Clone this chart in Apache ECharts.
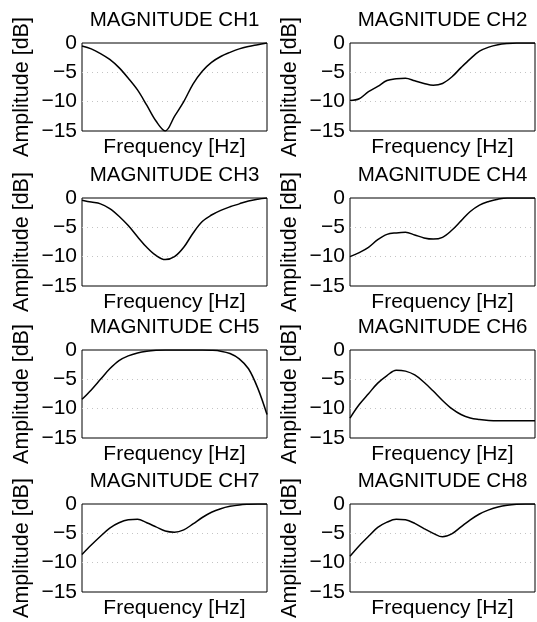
<!DOCTYPE html>
<html>
<head>
<meta charset="utf-8">
<script src="https://cdn.jsdelivr.net/npm/echarts@6/dist/echarts.min.js"></script>
<style>html,body{margin:0;padding:0;background:#fff;}#c{width:537px;height:622px;}</style>
</head>
<body>
<div id="c"></div>
<script>
// normalized frequency positions (x axis has no tick labels)
const freq = [0,0.05,0.10,0.15,0.20,0.25,0.30,0.35,0.40,0.45,0.50,0.55,0.60,0.65,0.70,0.75,0.80,0.85,0.90,0.95,1.00];
const titles = ['MAGNITUDE CH1','MAGNITUDE CH2','MAGNITUDE CH3','MAGNITUDE CH4','MAGNITUDE CH5','MAGNITUDE CH6','MAGNITUDE CH7','MAGNITUDE CH8'];
const yTicks = [0,-5,-10,-15];
const ch1 = [-0.5,-1.0,-1.8,-2.8,-4.2,-6.0,-8.0,-10.6,-13.3,-15.0,-12.5,-10.0,-7.0,-4.8,-3.3,-2.3,-1.6,-1.0,-0.6,-0.3,0];
const ch2 = [-9.8,-9.5,-8.3,-7.4,-6.4,-6.1,-6.0,-6.45,-6.9,-7.2,-6.9,-5.8,-4.2,-2.7,-1.4,-0.7,-0.3,-0.1,0,0,0];
const ch3 = [-0.4,-0.7,-1.0,-1.8,-3.1,-4.7,-6.6,-8.4,-9.8,-10.5,-10.0,-8.4,-6.0,-4.0,-2.9,-2.1,-1.5,-1.0,-0.5,-0.2,0];
const ch4 = [-10.0,-9.3,-8.4,-7.1,-6.2,-5.95,-5.85,-6.3,-6.8,-7.0,-6.7,-5.5,-3.9,-2.3,-1.2,-0.6,-0.2,0,0,0,0];
const ch5 = [-8.4,-6.8,-5.0,-3.2,-1.8,-1.0,-0.5,-0.2,-0.05,0,0,0,0,0,-0.05,-0.2,-0.6,-1.5,-3.2,-6.5,-11.0];
const ch6 = [-11.6,-9.3,-7.45,-5.65,-4.35,-3.45,-3.6,-4.25,-5.5,-7.0,-8.6,-10.0,-11.0,-11.6,-11.85,-12.0,-12.05,-12.05,-12.05,-12.05,-12.05];
const ch7 = [-8.6,-7.0,-5.5,-4.1,-3.2,-2.7,-2.62,-3.2,-3.9,-4.6,-4.8,-4.4,-3.4,-2.3,-1.4,-0.8,-0.4,-0.15,-0.05,0,0];
const ch8 = [-8.9,-7.1,-5.5,-4.0,-3.1,-2.62,-2.7,-3.3,-4.2,-5.0,-5.6,-5.1,-3.9,-2.7,-1.7,-1.0,-0.5,-0.2,-0.05,0,0];
const channels = [ch1,ch2,ch3,ch4,ch5,ch6,ch7,ch8];

const FONT = 'Liberation Sans, Arial, Helvetica, sans-serif';
const colLeft = [82, 350];
const rowTop = [43, 198, 350, 504];
const W = 185, H = 88;

const grids = [], xAxes = [], yAxes = [], series = [], graphics = [];
channels.forEach((ch, i) => {
  const r = Math.floor(i / 2), c = i % 2;
  grids.push({left: colLeft[c], top: rowTop[r], width: W, height: H, show: true,
    borderColor: '#000', borderWidth: 1, backgroundColor: 'transparent', containLabel: false});
  xAxes.push({type: 'value', gridIndex: i, min: 0, max: 1,
    name: 'Frequency [Hz]', nameLocation: 'middle', nameGap: 6,
    nameTextStyle: {fontFamily: FONT, fontSize: 21, color: '#000'},
    axisLine: {show: false}, axisTick: {show: false}, axisLabel: {show: false},
    splitLine: {show: false}});
  yAxes.push({type: 'value', gridIndex: i, min: -15, max: 0, interval: 5,
    name: 'Amplitude [dB]', nameLocation: 'middle', nameGap: 49,
    nameTextStyle: {fontFamily: FONT, fontSize: 21.5, color: '#000'},
    axisLine: {show: false}, axisTick: {show: false},
    axisLabel: {show: true, margin: 5, fontFamily: FONT, fontSize: 21, color: '#000',
      formatter: v => (yTicks.indexOf(v) >= 0 ? String(v).replace('-', '\u2212') : '')},
    splitLine: {show: true, showMinLine: false, showMaxLine: false,
      lineStyle: {color: '#c4c4c4', type: [1, 4], width: 1}}});
  series.push({type: 'line', xAxisIndex: i, yAxisIndex: i, showSymbol: false, smooth: 0.35,
    clip: true, lineStyle: {color: '#000', width: 1.5}, z: 5,
    data: freq.map((f, k) => [f, ch[k]])});
  graphics.push({type: 'text', x: colLeft[c] + W / 2, y: rowTop[r] - 33,
    style: {text: titles[i], font: '20.5px ' + FONT, fill: '#000', textAlign: 'center', textVerticalAlign: 'top'}});
});

const chart = echarts.init(document.getElementById('c'), null, {renderer: 'canvas'});
chart.setOption({
  animation: false,
  backgroundColor: '#fff',
  grid: grids, xAxis: xAxes, yAxis: yAxes, series: series,
  graphic: graphics
});
</script>
</body>
</html>
